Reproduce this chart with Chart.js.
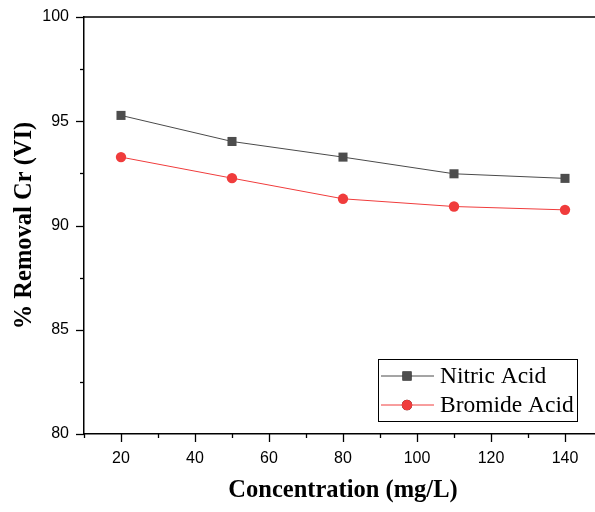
<!DOCTYPE html>
<html>
<head>
<meta charset="utf-8">
<script src="https://cdn.jsdelivr.net/npm/chart.js@4"></script>
<style>
  html, body { margin: 0; padding: 0; background: #fff; overflow: hidden; }
  #wrap { width: 610px; height: 512px; }
</style>
</head>
<body>
<div id="wrap"><canvas id="myChart" width="610" height="512"></canvas></div>
<script>
// values
const concentration = [20, 50, 80, 110, 140];           // mg/L
const nitricAcid = [95.28, 94.03, 93.28, 92.48, 92.26];  // % removal
const bromideAcid = [93.28, 92.27, 91.28, 90.91, 90.75]; // % removal
const xTicks = [20, 40, 60, 80, 100, 120, 140];
const yTicks = [80, 85, 90, 95, 100];

const serif = '"Liberation Serif", "Times New Roman", serif';
const sans = '"Liberation Sans", Arial, sans-serif';

// outward major / minor tick marks plus top frame line
const frameTicks = {
    id: 'frameTicks',
    afterDraw(chart) {
        const ctx = chart.ctx;
        const ca = chart.chartArea;
        const xs = chart.scales.x;
        const ys = chart.scales.y;
        ctx.save();
        ctx.strokeStyle = '#000';
        ctx.lineWidth = 1.5;
        ctx.beginPath();
        ctx.moveTo(ca.left, ca.top);
        ctx.lineTo(ca.right, ca.top);
        ctx.stroke();
        ctx.lineWidth = 1.3;
        for (let v = xs.min; v <= xs.max; v += 10) {
            const px = Math.round(xs.getPixelForValue(v)) + 0.5;
            const len = xTicks.includes(v) ? 8 : 4;
            ctx.beginPath();
            ctx.moveTo(px, ca.bottom);
            ctx.lineTo(px, ca.bottom + len);
            ctx.stroke();
        }
        for (let v = ys.min; v <= ys.max; v += 2.5) {
            const py = Math.round(ys.getPixelForValue(v)) + 0.5;
            const len = yTicks.includes(v) ? 8 : 4;
            ctx.beginPath();
            ctx.moveTo(ca.left - len, py);
            ctx.lineTo(ca.left, py);
            ctx.stroke();
        }
        ctx.restore();
    }
};

// boxed legend inside the plot, lower right
const boxLegend = {
    id: 'boxLegend',
    afterDraw(chart) {
        const ctx = chart.ctx;
        const ca = chart.chartArea;
        const left = ca.left + 294, top = ca.top + 342, w = 199, h = 62;
        ctx.save();
        ctx.strokeStyle = '#000';
        ctx.lineWidth = 1;
        ctx.strokeRect(left + 0.5, top + 0.5, w, h);
        ctx.font = '23.5px ' + serif;
        ctx.textBaseline = 'middle';
        ctx.fillStyle = '#000';
        chart.data.datasets.forEach((ds, i) => {
            const y = top + 17 + i * 29;
            ctx.strokeStyle = ds.borderColor;
            ctx.lineWidth = 1;
            ctx.beginPath();
            ctx.moveTo(left + 3, y);
            ctx.lineTo(left + 56, y);
            ctx.stroke();
            Chart.helpers.drawPoint(ctx, {
                pointStyle: ds.pointStyle,
                radius: ds.pointRadius,
                borderWidth: 0,
                rotation: 0
            }, left + 29, y);
            ctx.fillStyle = ds.pointBackgroundColor;
            ctx.fill();
            ctx.fillStyle = '#000';
            ctx.fillText(ds.label, left + 62, y + 1);
        });
        ctx.restore();
    }
};

const ctx = document.getElementById('myChart');
const myChart = new Chart(ctx, {
    type: 'line',
    data: {
        datasets: [
            {
                label: 'Nitric Acid',
                data: concentration.map((c, i) => ({x: c, y: nitricAcid[i]})),
                borderColor: '#4a4a4a',
                borderWidth: 1,
                pointStyle: 'rect',
                pointRadius: 6.4,
                pointBackgroundColor: '#4d4d4d',
                pointBorderWidth: 0
            },
            {
                label: 'Bromide Acid',
                data: concentration.map((c, i) => ({x: c, y: bromideAcid[i]})),
                borderColor: '#f03c3c',
                borderWidth: 1,
                pointStyle: 'circle',
                pointRadius: 5.2,
                pointBackgroundColor: '#f03c3c',
                pointBorderWidth: 0
            }
        ]
    },
    options: {
        responsive: false,
        animation: false,
        devicePixelRatio: 1,
        layout: { padding: { left: 0, right: 8, top: 17, bottom: 0 } },
        plugins: {
            legend: { display: false },
            tooltip: { enabled: false }
        },
        scales: {
            x: {
                type: 'linear',
                min: 10,
                max: 150,
                afterFit: s => { s.height = 78; s.paddingLeft = 0; s.paddingRight = 0; },
                border: { display: true, color: '#000', width: 1.5 },
                grid: { display: false, drawTicks: false },
                ticks: {
                    stepSize: 10,
                    autoSkip: false,
                    maxRotation: 0,
                    padding: 15,
                    color: '#000',
                    font: { family: sans, size: 16 },
                    callback: v => xTicks.includes(v) ? String(v) : ''
                },
                title: {
                    display: true,
                    text: 'Concentration (mg/L)',
                    color: '#000',
                    font: { family: serif, size: 24.5, weight: 'bold' },
                    padding: { top: 0, bottom: 7 }
                }
            },
            y: {
                min: 80,
                max: 100,
                afterFit: s => { s.width = 84; s.paddingTop = 0; s.paddingBottom = 0; },
                border: { display: true, color: '#000', width: 1.5 },
                grid: { display: false, drawTicks: false },
                ticks: {
                    stepSize: 2.5,
                    autoSkip: false,
                    padding: 15,
                    color: '#000',
                    font: { family: sans, size: 16 },
                    callback: v => yTicks.includes(v) ? String(v) : ''
                },
                title: {
                    display: true,
                    text: '% Removal Cr (VI)',
                    color: '#000',
                    font: { family: serif, size: 24.5, weight: 'bold' },
                    padding: { top: 10, bottom: 0 }
                }
            }
        }
    },
    plugins: [frameTicks, boxLegend]
});
</script>
</body>
</html>
